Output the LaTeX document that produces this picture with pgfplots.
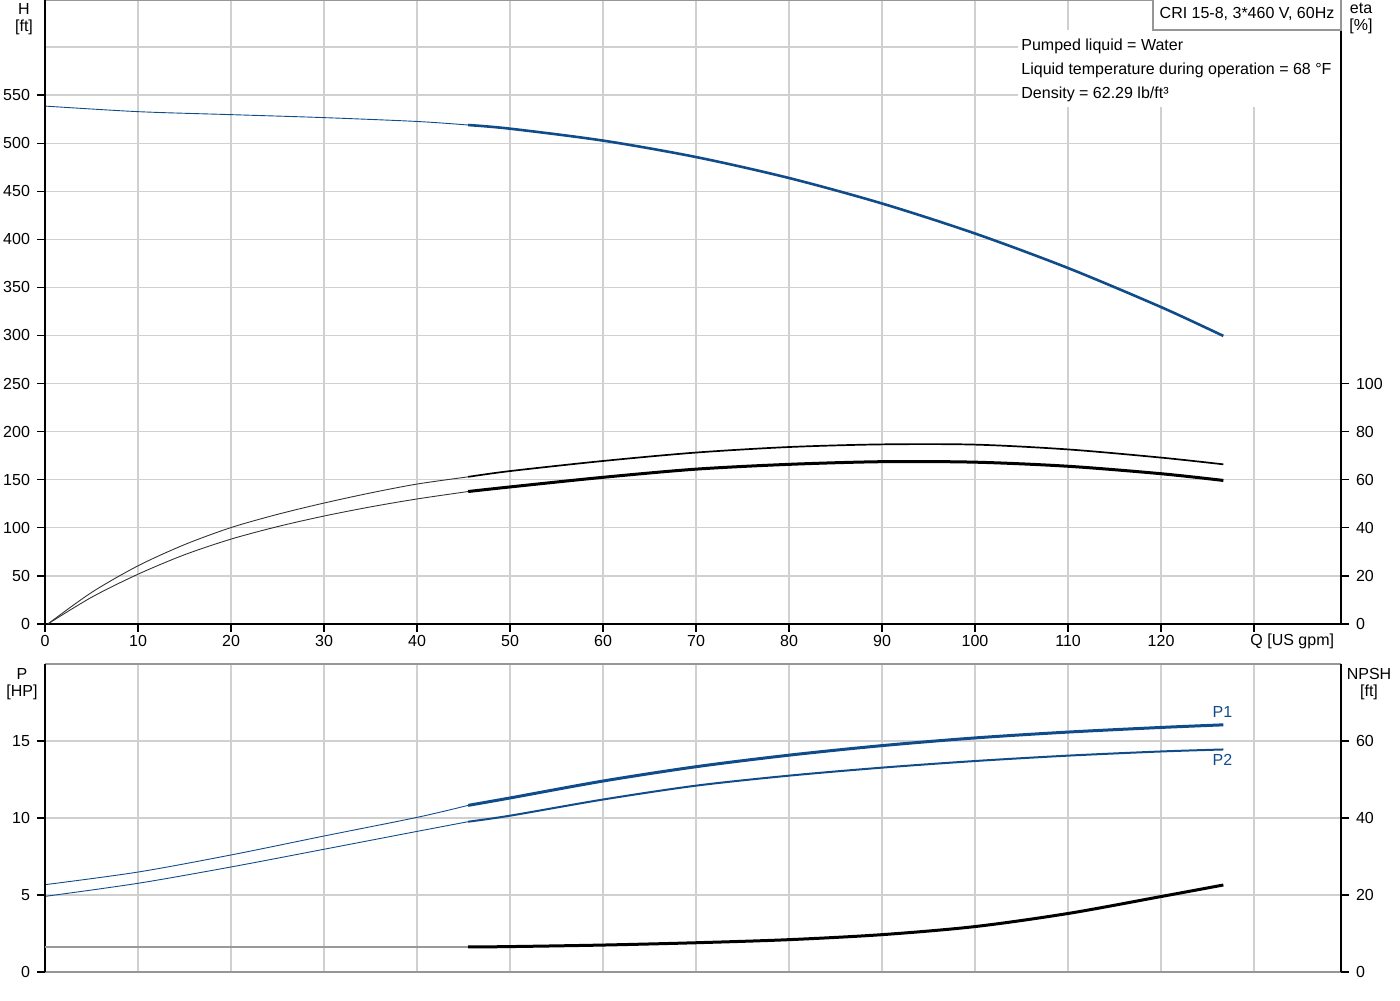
\documentclass[border=0pt]{standalone}
\usepackage{fontspec}
\setmainfont{Liberation Sans}
\usepackage{pgfplots}
\pgfplotsset{compat=1.18}
\definecolor{gblue}{RGB}{16,76,138}
\definecolor{gridc}{RGB}{208,208,208}
\definecolor{frame}{RGB}{150,150,150}
\begin{document}
\begin{tikzpicture}[font=\fontsize{8}{8.6}\selectfont]
\useasboundingbox (0,0) rectangle (700pt,500pt);
\pgfplotsset{
  every axis/.append style={scale only axis, clip=false,
    /pgf/number format/assume math mode=true,
    tick label style={font=\fontsize{8}{9.6}\selectfont},
    axis line style={draw=none},
    tick style={black, line width=0.6pt},
    tick align=outside, major tick length=4pt,
    grid style={gridc, line width=0.6pt}},
}
% ---------------- top: H and eta ----------------
\begin{axis}[at={(22.5pt,188pt)}, anchor=south west, width=648pt, height=312pt,
  xmin=0, xmax=139.35, ymin=0, ymax=648.8,
  xtick={0,10,...,130},
  xticklabels={0,10,20,30,40,50,60,70,80,90,100,110,120,{}},
  xticklabel style={yshift=1.8pt},
  ytick={0,50,...,550}, tick pos=left, grid=major]
\draw[gridc, line width=0.6pt] (axis cs:0,600) -- (axis cs:139.35,600);
\addplot[gblue, line width=0.45pt, smooth] coordinates {(0,538.5)(10,532.7)(20,529.6)(30,526.5)(40,522.5)(45.5,518.8)};
\addplot[gblue, line width=1.3pt, smooth] coordinates {(45.5,518.8)(50,515)(60,502.6)(70,485.5)(80,463.7)(90,437.2)(100,406.0)(110,370.1)(120,329.5)(126.7,299.5)};
\draw[frame, line width=0.6pt] (rel axis cs:0,1) -- (rel axis cs:1,1);
\draw[black, line width=1pt] (rel axis cs:0,1) -- (rel axis cs:0,0) -- (rel axis cs:1,0) -- (rel axis cs:1,1);
\node[anchor=north west, inner sep=0pt] at ([xshift=-2pt,yshift=-4.8pt]axis cs:130,0) {Q [US gpm]};
\end{axis}
\begin{axis}[at={(22.5pt,188pt)}, anchor=south west, width=648pt, height=312pt,
  xmin=0, xmax=139.35, ymin=0, ymax=259.52,
  hide x axis, axis y line*=right, ytick={0,20,...,100}]
\addplot[black!80, line width=0.45pt, smooth] coordinates {(0.3,0)(5,13.1)(10,24.2)(15,33.0)(20,40.1)(25,45.6)(30,50.3)(35,54.5)(40,58.2)(45.5,61.2)};
\addplot[black, line width=0.85pt, smooth] coordinates {(45.5,61.2)(50,63.6)(60,67.8)(70,71.3)(80,73.6)(90,74.7)(100,74.6)(110,72.6)(120,69.2)(126.7,66.4)};
\addplot[black!80, line width=0.45pt, smooth] coordinates {(0.3,0)(5,11.1)(10,20.7)(15,28.8)(20,35.3)(25,40.5)(30,44.9)(35,48.7)(40,52.0)(45.5,55.1)};
\addplot[black, line width=1.5pt, smooth] coordinates {(45.5,55.1)(50,57.0)(60,61.0)(70,64.4)(80,66.4)(90,67.5)(100,67.3)(110,65.6)(120,62.5)(126.7,59.7)};
\end{axis}
% ---------------- bottom: P and NPSH ----------------
\begin{axis}[at={(22.5pt,14pt)}, anchor=south west, width=648pt, height=154pt,
  xmin=0, xmax=139.35, ymin=0, ymax=20,
  xtick={0,10,...,130}, xmajorticks=false, xmajorgrids=true,
  ytick={0,5,10,15}, ymajorgrids=true, ytick pos=left]
\addplot[gblue, line width=0.45pt, smooth] coordinates {(0,5.67)(10,6.49)(20,7.60)(30,8.83)(40,10.04)(45.5,10.82)};
\addplot[gblue, line width=1.5pt, smooth] coordinates {(45.5,10.82)(50,11.3)(60,12.4)(70,13.33)(80,14.08)(90,14.7)(100,15.2)(110,15.58)(120,15.88)(126.7,16.05)};
\addplot[gblue, line width=0.45pt, smooth] coordinates {(0,4.91)(10,5.76)(20,6.82)(30,7.97)(40,9.13)(45.5,9.76)};
\addplot[gblue, line width=1pt, smooth] coordinates {(45.5,9.76)(50,10.15)(60,11.2)(70,12.1)(80,12.75)(90,13.27)(100,13.7)(110,14.05)(120,14.32)(126.7,14.45)};
\node[gblue] at (axis cs:126.6,16.9) {P1};
\node[gblue] at (axis cs:126.6,13.8) {P2};
\draw[frame, line width=0.6pt] (rel axis cs:0,1) -- (rel axis cs:1,1);
\draw[frame, line width=0.8pt] (rel axis cs:0,0) -- (rel axis cs:1,0);
\draw[black, line width=1pt] (rel axis cs:0,0) -- (rel axis cs:0,1);
\draw[black, line width=1pt] (rel axis cs:1,0) -- (rel axis cs:1,1);
\end{axis}
\begin{axis}[at={(22.5pt,14pt)}, anchor=south west, width=648pt, height=154pt,
  xmin=0, xmax=139.35, ymin=0, ymax=80,
  hide x axis, axis y line*=right, ytick={0,20,40,60}]
\addplot[black!40, line width=0.8pt] coordinates {(0,6.5)(45.5,6.5)};
\addplot[black, line width=1.5pt, smooth] coordinates {(45.5,6.5)(50,6.6)(60,7.0)(70,7.6)(80,8.4)(90,9.7)(100,11.8)(110,15.2)(120,19.6)(126.7,22.6)};
\end{axis}
% ---------------- labels ----------------
\node[anchor=north, align=center, inner sep=0.5pt] at (12pt,499pt) {H\\{}[ft]};
\node[anchor=north, align=center, inner sep=0.5pt] at (680.5pt,499pt) {eta\\{}[\%]};
\node[anchor=north, align=center, inner sep=0.5pt] at (11pt,166.5pt) {P\\{}[HP]};
\node[anchor=north, align=center, inner sep=0.5pt] at (684.5pt,166.5pt) {NPSH\\{}[ft]};
\fill[white] (509pt,446.5pt) rectangle (670pt,485pt);
\draw[frame, fill=white, line width=0.6pt] (576.5pt,485pt) rectangle (670.5pt,500.5pt);
\node at (623.5pt,493pt) {CRI 15-8, 3*460 V, 60Hz};
\node[anchor=west, inner sep=0pt] at (510.5pt,477pt) {Pumped liquid = Water};
\node[anchor=west, inner sep=0pt] at (510.5pt,465pt) {Liquid temperature during operation = 68 °F};
\node[anchor=west, inner sep=0pt] at (510.5pt,453pt) {Density = 62.29 lb/ft³};
\end{tikzpicture}
\end{document}
